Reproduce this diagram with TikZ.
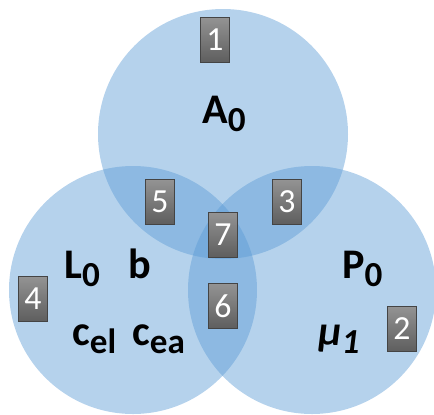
\documentclass[tikz,border=0pt]{standalone}
\usepackage{fontspec}
\setmainfont{Carlito}
\usetikzlibrary{positioning}
\definecolor{setfill}{HTML}{5B9BD5}
\definecolor{tagtop}{HTML}{939393}
\definecolor{tagbot}{HTML}{5E5E5E}
\definecolor{tagstroke}{HTML}{444444}
\newcommand{\vlab}[2]{{\bfseries #1\raisebox{-0.22cm}{\fontsize{25}{25}\selectfont #2}}}
\begin{document}
\begin{tikzpicture}[
    every node/.style={font=\fontsize{30}{32}\selectfont},
    setc/.style={circle, fill=setfill, fill opacity=0.45, minimum size=6.2cm, inner sep=0pt},
    tag/.style={draw=tagstroke, top color=tagtop, bottom color=tagbot, minimum width=0.72cm, minimum height=1.12cm, inner sep=0pt, text=white, font=\fontsize{24}{24}\selectfont},
    lab/.style={anchor=base west, inner sep=0pt}
]
\useasboundingbox (0,0) rectangle (10.85,-10.35);

% sets
\node[setc, minimum size=6.25cm] (setA) at (5.575, -3.35) {};
\node[setc] (setL) at (3.325, -7.25) {};
\node[setc] (setP) at (7.8, -7.25) {};

% regions
\node[tag] (r1) at (5.375, -1.0) {1};
\node[tag] (r2) at (10.05, -8.225) {2};
\node[tag] (r3) at (7.175, -5.05) {3};
\node[tag] (r4) at (0.825, -7.475) {4};
\node[tag] (r5) at (4.0, -5.05) {5};
\node[tag] (r6) at (5.575, -7.65) {6};
\node[tag] (r7) at (5.575, -5.875) {7};

% variables
\node[lab] (lblA) at (5.05, -3.075) {\vlab{A}{0}};
\node[lab] (lblL) at (1.6, -6.95) {\vlab{L}{0}};
\node[lab] (lblb) at (3.2, -6.95) {\bfseries b};
\node[lab] (lblcel) at (1.8, -8.625) {\vlab{c}{el}};
\node[lab] (lblcea) at (3.3, -8.625) {\vlab{c}{ea}};
\node[lab] (lblP) at (8.55, -6.95) {\vlab{P}{0}};
\node[lab] (lblmu) at (7.95, -8.625) {\vlab{\itshape μ}{1}};

\end{tikzpicture}
\end{document}
